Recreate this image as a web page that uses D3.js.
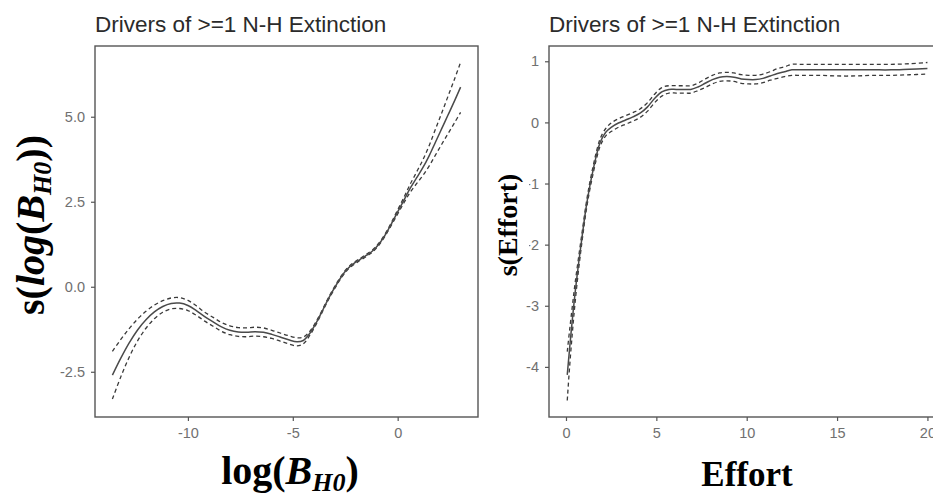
<!DOCTYPE html>
<html><head><meta charset="utf-8">
<script src="https://cdn.jsdelivr.net/npm/d3@7"></script>
<style>
body{margin:0;background:#fff;}
svg{display:block;}
</style></head>
<body>
<svg id="c" width="933" height="496"></svg>
<script>
// ---------- DATA ----------
const chartTitle = "Drivers of >=1 N-H Extinction";

// Left panel: smooth of log(B_H0)
const bX = [-13.6,-13.2,-12.8,-12.4,-12,-11.6,-11.2,-10.8,-10.4,-10,-9.6,-9.2,-8.8,-8.4,-8,-7.6,-7.2,-6.8,-6.4,-6,-5.6,-5.2,-4.8,-4.5,-4.2,-3.9,-3.6,-3.3,-3.0,-2.7,-2.4,-2.1,-1.8,-1.5,-1.2,-0.9,-0.6,-0.3,0,0.3,0.6,0.9,1.2,1.5,1.8,2.1,2.4,2.7,3.0];
const bFit = [-2.6,-2.1,-1.65,-1.27,-0.97,-0.74,-0.58,-0.49,-0.48,-0.55,-0.7,-0.88,-1.03,-1.18,-1.28,-1.33,-1.34,-1.32,-1.34,-1.4,-1.48,-1.56,-1.62,-1.58,-1.38,-1.08,-0.72,-0.35,-0.02,0.28,0.52,0.68,0.8,0.92,1.05,1.25,1.52,1.85,2.2,2.55,2.9,3.2,3.5,3.85,4.25,4.65,5.05,5.45,5.87];
const bUpper = [-1.9,-1.55,-1.23,-0.95,-0.72,-0.54,-0.41,-0.33,-0.32,-0.4,-0.56,-0.75,-0.9,-1.05,-1.15,-1.2,-1.21,-1.19,-1.21,-1.28,-1.36,-1.44,-1.5,-1.48,-1.32,-1.04,-0.69,-0.32,0.01,0.31,0.55,0.71,0.83,0.95,1.08,1.28,1.55,1.89,2.26,2.63,3.02,3.37,3.73,4.15,4.63,5.11,5.6,6.09,6.6];
const bLower = [-3.3,-2.65,-2.07,-1.59,-1.22,-0.94,-0.75,-0.65,-0.64,-0.7,-0.84,-1.01,-1.16,-1.31,-1.41,-1.46,-1.47,-1.45,-1.47,-1.52,-1.6,-1.68,-1.74,-1.68,-1.44,-1.12,-0.75,-0.38,-0.05,0.25,0.49,0.65,0.77,0.89,1.02,1.22,1.49,1.81,2.14,2.47,2.78,3.03,3.27,3.55,3.87,4.19,4.5,4.81,5.13];
const bXTicks = [-10,-5,0];
const bYTicks = [-2.5,0,2.5,5];

// Right panel: smooth of Effort
const eX = [0.07,0.2,0.35,0.5,0.7,0.9,1.1,1.3,1.5,1.7,1.9,2.2,2.5,2.9,3.3,3.7,4.1,4.5,4.9,5.3,5.7,6.1,6.5,6.9,7.3,7.7,8.1,8.5,8.9,9.3,9.7,10.1,10.5,10.9,11.3,11.7,12.1,12.5,13,14,15,16,17,18,19,20];
const eFit = [-4.13,-3.7,-3.23,-2.8,-2.3,-1.85,-1.42,-1.07,-0.78,-0.52,-0.32,-0.16,-0.08,-0.01,0.04,0.09,0.15,0.25,0.39,0.5,0.54,0.54,0.54,0.54,0.58,0.64,0.7,0.74,0.75,0.74,0.71,0.7,0.7,0.72,0.76,0.8,0.83,0.86,0.86,0.86,0.86,0.86,0.86,0.86,0.87,0.88];
const eUpper = [-3.75,-3.4,-3.01,-2.64,-2.2,-1.78,-1.36,-1.01,-0.72,-0.46,-0.26,-0.1,-0.01,0.06,0.11,0.16,0.22,0.32,0.46,0.57,0.6,0.6,0.6,0.6,0.64,0.71,0.77,0.81,0.82,0.81,0.78,0.77,0.77,0.79,0.83,0.88,0.91,0.95,0.95,0.95,0.95,0.95,0.95,0.95,0.96,0.98];
const eLower = [-4.55,-4.0,-3.45,-2.96,-2.4,-1.92,-1.48,-1.13,-0.84,-0.58,-0.38,-0.22,-0.15,-0.08,-0.03,0.02,0.08,0.18,0.32,0.43,0.48,0.48,0.48,0.48,0.52,0.57,0.63,0.67,0.68,0.67,0.64,0.63,0.63,0.65,0.69,0.72,0.75,0.77,0.77,0.77,0.76,0.76,0.77,0.77,0.78,0.79];
const eXTicks = [0,5,10,15,20];
const eYTicks = [-4,-3,-2,-1,0,1];

// ---------- DRAW ----------
const svg = d3.select("#c");
const sans = "'Liberation Sans', Arial, sans-serif";
const serif = "'Liberation Serif', 'Times New Roman', serif";
const tickCol = "#707070";
const fmtNum = d => (d < 0 ? "-" : "") + Math.abs(d);

function panel(opt){
  const {x0,x1,y0,y1,xDom,yDom,xs,fit,up,lo,xTicks,yTicks,yFmt} = opt;
  const x = d3.scaleLinear().domain(xDom).range([x0,x1]);
  const y = d3.scaleLinear().domain(yDom).range([y1,y0]);
  const g = svg.append("g");
  // title
  g.append("text").attr("x",x0).attr("y",y0-14)
    .attr("font-family",sans).attr("font-size",22.5).attr("fill","#2b2b2b")
    .text(chartTitle);
  // clip
  const cid = "clip"+Math.round(x0);
  svg.append("clipPath").attr("id",cid).append("rect")
    .attr("x",x0).attr("y",y0).attr("width",x1-x0).attr("height",y1-y0);
  const plot = g.append("g").attr("clip-path",`url(#${cid})`);
  const line = d3.line().curve(d3.curveCatmullRom)
    .x(d=>x(d[0])).y(d=>y(d[1]));
  const pts = arr => xs.map((v,i)=>[v,arr[i]]);
  plot.append("path").attr("d",line(pts(up))).attr("fill","none")
    .attr("stroke","#3a3a3a").attr("stroke-width",1.3).attr("stroke-dasharray","4,3");
  plot.append("path").attr("d",line(pts(lo))).attr("fill","none")
    .attr("stroke","#3a3a3a").attr("stroke-width",1.3).attr("stroke-dasharray","4,3");
  plot.append("path").attr("d",line(pts(fit))).attr("fill","none")
    .attr("stroke","#4a4a4a").attr("stroke-width",1.5);
  // axes
  const ax = g.append("g").attr("transform",`translate(0,${y1})`)
    .call(d3.axisBottom(x).tickValues(xTicks).tickSize(4).tickPadding(7).tickFormat(fmtNum));
  const ay = g.append("g").attr("transform",`translate(${x0},0)`)
    .call(d3.axisLeft(y).tickValues(yTicks).tickSize(4).tickPadding(6).tickFormat(yFmt));
  [ax,ay].forEach(a=>{
    a.select(".domain").remove();
    a.selectAll(".tick line").attr("stroke","#555").attr("stroke-width",1.2);
    a.selectAll(".tick text").attr("fill",tickCol).attr("font-family",sans).attr("font-size",14.5);
  });
  // border
  g.append("rect").attr("x",x0).attr("y",y0).attr("width",x1-x0).attr("height",y1-y0)
    .attr("fill","none").attr("stroke","#555").attr("stroke-width",1.4);
  return g;
}

panel({x0:95,x1:478,y0:46,y1:417,xDom:[-14.43,3.83],yDom:[-3.83,7.08],
  xs:bX,fit:bFit,up:bUpper,lo:bLower,xTicks:bXTicks,yTicks:bYTicks,yFmt:d=>d.toFixed(1).replace("−","-")});
panel({x0:549,x1:945.5,y0:46,y1:417,xDom:[-0.94,21],yDom:[-4.82,1.25],
  xs:eX,fit:eFit,up:eUpper,lo:eLower,xTicks:eXTicks,yTicks:eYTicks,yFmt:fmtNum});

// Axis titles (serif, bold)
const yl = svg.append("text").attr("transform","translate(44,225) rotate(-90)")
  .attr("text-anchor","middle").attr("font-family",serif).attr("font-weight","bold")
  .attr("font-size",40).attr("fill","#000");
yl.append("tspan").text("s(");
yl.append("tspan").attr("font-style","italic").text("log");
yl.append("tspan").text("(");
yl.append("tspan").attr("font-style","italic").text("B");
yl.append("tspan").attr("font-style","italic").attr("font-size",26).attr("dy",7).text("H0");
yl.append("tspan").attr("dy",-7).text("))");

const xl = svg.append("text").attr("x",290).attr("y",484)
  .attr("text-anchor","middle").attr("font-family",serif).attr("font-weight","bold")
  .attr("font-size",40).attr("fill","#000");
xl.append("tspan").text("log(");
xl.append("tspan").attr("font-style","italic").text("B");
xl.append("tspan").attr("font-style","italic").attr("font-size",26).attr("dy",7).text("H0");
xl.append("tspan").attr("dy",-7).text(")");

// right y label with white backing
svg.append("rect").attr("x",492).attr("y",166).attr("width",37).attr("height",118).attr("fill","#fff");
svg.append("text").attr("transform","translate(517,225) rotate(-90)")
  .attr("text-anchor","middle").attr("font-family",serif).attr("font-weight","bold")
  .attr("font-size",28).attr("fill","#000").text("s(Effort)");

svg.append("text").attr("x",747).attr("y",486).attr("text-anchor","middle")
  .attr("font-family",serif).attr("font-weight","bold").attr("font-size",35).attr("fill","#000")
  .text("Effort");
</script>
</body></html>
